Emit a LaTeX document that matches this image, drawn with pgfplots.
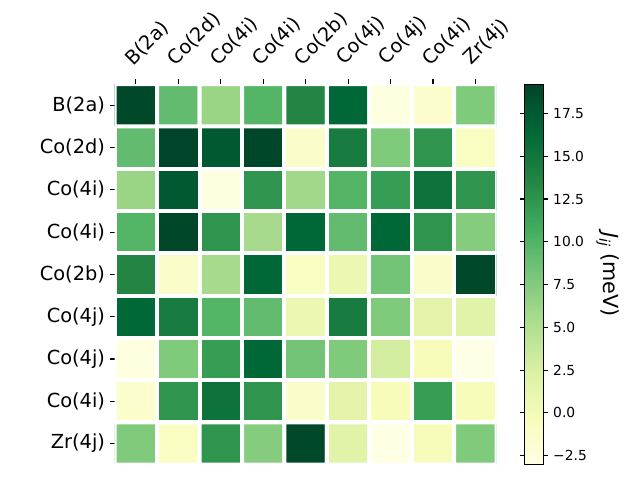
\documentclass[border=0pt]{standalone}
\usepackage{fontspec}
\setmainfont{DejaVu Sans}
\usepackage{pgfplots}
\pgfplotsset{compat=1.18}
\usepackage{pgfplotstable}

% J_ij matrix, y = 0 is the bottom row (Zr(4j)), y = 8 the top row (B(2a))
\pgfplotstableread{
x y c
0 0 7.65
1 0 -0.81
2 0 12.54
3 0 7.42
4 0 18.99
5 0 1.86
6 0 -3.03
7 0 -0.36
8 0 7.65
0 1 -1.47
1 1 12.54
2 1 15.43
3 1 12.54
4 1 -1.25
5 1 1.64
6 1 -0.36
7 1 11.87
8 1 -0.36
0 2 -2.59
1 2 7.65
2 2 11.87
3 2 16.54
4 2 8.31
5 2 7.65
6 2 2.97
7 2 -0.36
8 2 -3.03
0 3 16.54
1 3 14.54
2 3 9.87
3 3 9.20
4 3 0.75
5 3 14.54
6 3 7.65
7 3 1.64
8 3 1.86
0 4 13.65
1 4 -1.25
2 4 5.64
3 4 16.54
4 4 -0.81
5 4 0.75
6 4 8.31
7 4 -1.25
8 4 18.99
0 5 9.87
1 5 19.10
2 5 12.54
3 5 5.64
4 5 16.54
5 5 9.20
6 5 16.54
7 5 12.54
8 5 7.42
0 6 6.31
1 6 17.65
2 6 -2.59
3 6 12.54
4 6 5.87
5 6 9.87
6 6 11.87
7 6 15.43
8 6 12.54
0 7 9.20
1 7 19.21
2 7 17.65
3 7 19.10
4 7 -1.25
5 7 14.54
6 7 7.65
7 7 12.54
8 7 -0.81
0 8 18.99
1 8 9.20
2 8 6.31
3 8 9.87
4 8 13.65
5 8 16.54
6 8 -2.59
7 8 -1.47
8 8 7.65
}\jij

\begin{document}
\begin{tikzpicture}
\path[use as bounding box] (0,0) rectangle (460.8bp,345.6bp);
\begin{axis}[
  at={(82.6bp,11.0bp)}, anchor=south west,
  scale only axis, width=275bp, height=274bp,
  xmin=-0.5, xmax=8.5, ymin=-0.5, ymax=8.5,
  axis line style={draw=none},
  xtick={0,...,8}, ytick={0,...,8},
  xticklabels={B(2a),Co(2d),Co(4i),Co(4i),Co(2b),Co(4j),Co(4j),Co(4i),Zr(4j)},
  yticklabels={Zr(4j),Co(4i),Co(4j),Co(4j),Co(2b),Co(4i),Co(4i),Co(2d),B(2a)},
  xtick pos=upper, xticklabel pos=upper, ytick pos=left,
  tick align=outside,
  major tick length=3.5bp,
  tick style={black, line width=0.8bp},
  xticklabel style={rotate=45, anchor=south west, inner sep=0pt,
    xshift=5bp, yshift=6bp, font=\fontsize{14}{16}\selectfont},
  yticklabel style={font=\fontsize{14}{16}\selectfont},
  colormap={YlGn}{rgb255=(255,255,229) rgb255=(247,252,185) rgb255=(217,240,163)
    rgb255=(173,221,142) rgb255=(120,198,121) rgb255=(65,171,93)
    rgb255=(35,132,67) rgb255=(0,104,55) rgb255=(0,69,41)},
  point meta min=-3.03, point meta max=19.21,
  colorbar,
  colorbar style={
    at={(parent axis.north east)}, anchor=north west, xshift=11.5bp,
    scale only axis, width=13.7bp, height=274bp,
    ytick={-2.5,0,2.5,5,7.5,10,12.5,15,17.5},
    yticklabels={−2.5,0.0,2.5,5.0,7.5,10.0,12.5,15.0,17.5},
    yticklabel style={font=\fontsize{10}{12}\selectfont},
    major tick length=3.5bp, tick align=outside,
    tick style={black, line width=0.8bp},
    axis line style={black, line width=0.8bp},
    ylabel={{\itshape J}\textsubscript{\itshape ij} (meV)},
    ylabel style={rotate=180, font=\fontsize{15}{18}\selectfont},
  },
]
\addplot[matrix plot*, mesh/cols=9, point meta=explicit, draw=white, line width=2.88bp]
  table[meta=c] {\jij};
\end{axis}
\end{tikzpicture}
\end{document}
